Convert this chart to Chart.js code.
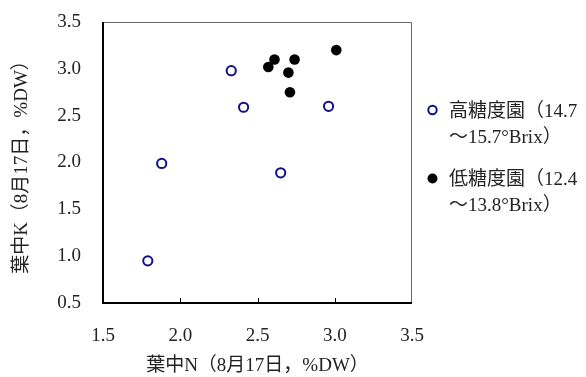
<!DOCTYPE html>
<html>
<head>
<meta charset="utf-8">
<script src="https://cdn.jsdelivr.net/npm/chart.js@4/dist/chart.umd.min.js"></script>
<style>
    html, body { margin: 0; padding: 0; background: #fff; }
    #wrap { width: 586px; height: 377px; position: relative; }
</style>
</head>
<body>
<div id="wrap"><canvas id="nk-chart"></canvas></div>
<script>
// high sugar orchards (open circles)
const highN = [1.79, 1.88, 2.33, 2.41, 2.65, 2.96];
const highK = [0.95, 1.99, 2.98, 2.59, 1.89, 2.60];
// low sugar orchards (filled circles)
const lowN = [2.57, 2.61, 2.70, 2.71, 2.74, 3.01];
const lowK = [3.02, 3.10, 2.96, 2.75, 3.10, 3.20];

const xTicks = [1.5, 2.0, 2.5, 3.0, 3.5];
const yTicks = [0.5, 1.0, 1.5, 2.0, 2.5, 3.0, 3.5];

const xTitle = '葉中N（8月17日，%DW）';
const yTitle = '葉中K（8月17日，%DW）';
const legendLines = [
    ['高糖度園（14.7', '～15.7°Brix）'],
    ['低糖度園（12.4', '～13.8°Brix）']
];

const FONT = '"Liberation Serif", "Noto Sans CJK JP", serif';
const TEXT = '#222';
const NAVY = '#101088';

const toPoints = (xs, ys) => xs.map((x, i) => ({ x: x, y: ys[i] }));

// box around plot area, inward x ticks and the legend on the right
const framePlugin = {
    id: 'frame',
    afterDraw: (chart) => {
        const { ctx, chartArea: a, scales } = chart;
        ctx.save();
        // top/right thin
        ctx.strokeStyle = '#666';
        ctx.lineWidth = 1;
        ctx.beginPath();
        ctx.moveTo(a.left, a.top + 0.5);
        ctx.lineTo(a.right - 0.5, a.top + 0.5);
        ctx.lineTo(a.right - 0.5, a.bottom);
        ctx.stroke();
        // left/bottom thick
        ctx.strokeStyle = '#000';
        ctx.lineWidth = 2;
        ctx.beginPath();
        ctx.moveTo(a.left, a.top);
        ctx.lineTo(a.left, a.bottom);
        ctx.lineTo(a.right, a.bottom);
        ctx.stroke();
        // inner tick marks on x
        ctx.lineWidth = 1;
        xTicks.slice(1, -1).forEach((v) => {
            const px = Math.round(scales.x.getPixelForValue(v)) + 0.5;
            ctx.beginPath();
            ctx.moveTo(px, a.bottom);
            ctx.lineTo(px, a.bottom - 5);
            ctx.stroke();
        });

        // legend
        ctx.font = '19px ' + FONT;
        ctx.textBaseline = 'middle';
        ctx.textAlign = 'left';
        const rows = [110, 178.5];
        chart.data.datasets.forEach((ds, i) => {
            const y = rows[i];
            ctx.beginPath();
            if (i === 0) {
                ctx.arc(432.5, y, 4.2, 0, Math.PI * 2);
                ctx.strokeStyle = ds.borderColor;
                ctx.lineWidth = 2;
                ctx.stroke();
            } else {
                ctx.arc(432.5, y, 5, 0, Math.PI * 2);
                ctx.fillStyle = ds.backgroundColor;
                ctx.fill();
            }
            ctx.fillStyle = TEXT;
            ctx.fillText(legendLines[i][0], 449, y + 2);
            ctx.fillText(legendLines[i][1], 449, y + 28);
        });
        ctx.restore();
    }
};

new Chart(document.getElementById('nk-chart'), {
    type: 'scatter',
    data: {
        datasets: [{
            label: legendLines[0].join(''),
            data: toPoints(highN, highK),
            pointRadius: 4.6,
            pointHoverRadius: 4.6,
            pointBorderWidth: 2,
            borderColor: NAVY,
            backgroundColor: '#fff'
        }, {
            label: legendLines[1].join(''),
            data: toPoints(lowN, lowK),
            pointRadius: 5.3,
            pointHoverRadius: 5.3,
            pointBorderWidth: 0,
            borderColor: '#000',
            backgroundColor: '#000'
        }]
    },
    options: {
        responsive: true,
        maintainAspectRatio: false,
        animation: false,
        layout: {
            padding: { top: 22, right: 174, bottom: 0, left: 0 }
        },
        plugins: {
            legend: { display: false },
            tooltip: { enabled: false }
        },
        scales: {
            x: {
                type: 'linear',
                min: 1.5,
                max: 3.5,
                afterBuildTicks: (s) => { s.ticks = xTicks.map((v) => ({ value: v })); },
                afterFit: (s) => { s.height = 74; },
                // invisible tick length keeps the labels off the axis
                grid: { display: false, drawTicks: true, tickLength: 22 },
                border: { display: false },
                ticks: {
                    padding: 0,
                    color: TEXT,
                    font: { family: FONT, size: 19 },
                    callback: (v) => v.toFixed(1)
                },
                title: {
                    display: true,
                    text: xTitle,
                    color: TEXT,
                    font: { family: FONT, size: 19 },
                    padding: { top: 0, bottom: 0 }
                }
            },
            y: {
                type: 'linear',
                min: 0.5,
                max: 3.5,
                afterBuildTicks: (s) => { s.ticks = yTicks.map((v) => ({ value: v })); },
                afterFit: (s) => { s.width = 103; },
                grid: { display: false, drawTicks: true, tickLength: 22 },
                border: { display: false },
                ticks: {
                    padding: 0,
                    color: TEXT,
                    font: { family: FONT, size: 19 },
                    callback: (v) => v.toFixed(1)
                },
                title: {
                    display: true,
                    text: yTitle,
                    color: TEXT,
                    font: { family: FONT, size: 19 },
                    padding: { top: 11, bottom: 9 }
                }
            }
        }
    },
    plugins: [framePlugin]
});
</script>
</body>
</html>
